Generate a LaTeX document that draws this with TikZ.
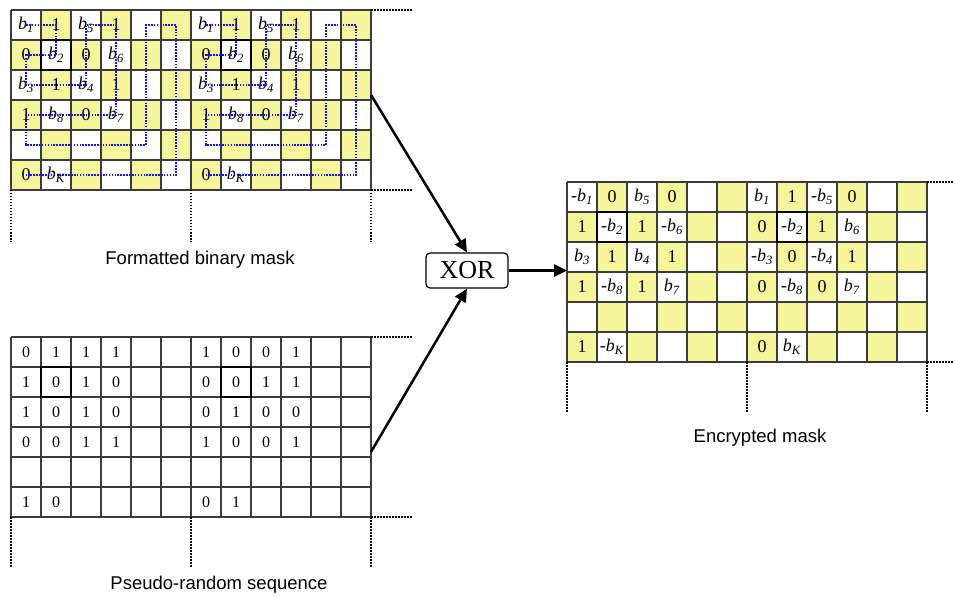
\documentclass[tikz,border=0pt]{standalone}
\usepackage{fontspec}
\setmainfont{Liberation Serif}
\setsansfont{Liberation Sans}
\usetikzlibrary{arrows.meta}
\definecolor{cellyellow}{RGB}{245,246,155}
\definecolor{gridline}{RGB}{60,60,60}
\definecolor{pathblue}{RGB}{20,20,245}
\newcommand\bsub[1]{\textit{b}\textsubscript{\textit{#1}}}
% #1 x0, #2 y0, #3 checker (1) or plain (0)
\newcommand\cellgrid[3]{%
  \ifnum#3=1
  \foreach \rr in {0,...,5}{\foreach \cc in {0,...,11}{%
    \pgfmathtruncatemacro\p{mod(\rr+\cc,2)}%
    \ifnum\p=1 \fill[cellyellow] ({#1+30*\cc},{#2+30*\rr}) rectangle ++(30,30);\fi}}
  \fi
  \foreach \i in {0,...,12}{\draw[gridline,line width=1.2pt] ({#1+30*\i},#2) -- ++(0,180);}
  \foreach \j in {0,...,6}{\draw[gridline,line width=1.2pt] (#1,{#2+30*\j}) -- ++(360,0);}
  \draw[black,line width=1.3pt] ({#1+30},{#2+30}) rectangle ++(30,30);
  \draw[black,line width=1.3pt] ({#1+210},{#2+30}) rectangle ++(30,30);
}
\begin{document}
\begin{tikzpicture}[x=1pt,y=-1pt,
  celltxt/.style={inner sep=0pt, font=\fontsize{18}{20}\selectfont},
  seqtxt/.style={inner sep=0pt, font=\fontsize{16}{18}\selectfont},
  caption/.style={font=\sffamily\fontsize{18.5}{20}\selectfont, inner sep=0pt},
  dots/.style={line width=1.8pt, dash pattern=on 1.5pt off 1.5pt},
  route/.style={pathblue, line width=2.1pt, dash pattern=on 1.6pt off 1.3pt},
  flow/.style={line width=2.5pt, -{Triangle[length=13pt,width=12pt]}},
  gate/.style={draw, rounded corners=4pt, line width=1.2pt, minimum width=82pt, minimum height=35pt, inner sep=0pt, font=\fontsize{26}{28}\selectfont}]
\useasboundingbox (0,0) rectangle (953,596);

% ---------- formatted binary mask ----------
\cellgrid{11}{10}{1}
\foreach \h in {0,6}{
  \foreach \r/\c/\t in {0/0/{\bsub{1}},0/1/1,0/2/{\bsub{5}},0/3/1,
      1/0/0,1/1/{\bsub{2}},1/2/0,1/3/{\bsub{6}},
      2/0/{\bsub{3}},2/1/1,2/2/{\bsub{4}},2/3/1,
      3/0/1,3/1/{\bsub{8}},3/2/0,3/3/{\bsub{7}},
      5/0/0,5/1/{\bsub{K}}}{
    \pgfmathtruncatemacro\cc{\c+\h}
    \node[celltxt] (m-\r-\cc) at ({11+30*\cc+15},{10+30*\r+15}) {\t};
  }
  \draw[route] ({11+30*\h+15},25) -- ++(30,0) -- ++(0,30) -- ++(-30,0) -- ++(0,30)
     -- ++(60,0) -- ++(0,-60) -- ++(30,0) -- ++(0,90) -- ++(-90,0) -- ++(0,30)
     -- ++(120,0) -- ++(0,-120) -- ++(30,0) -- ++(0,150) -- ++(-150,0);
}
\coordinate (mt1) at (371,10);  \coordinate (mt2) at (413,10);
\coordinate (mb1) at (371,190); \coordinate (mb2) at (413,190);
\draw[dots] (mt1) -- (mt2);
\draw[dots] (mb1) -- (mb2);
\foreach \x in {11,191,371}{\draw[dots] (\x,190) -- (\x,242);}
\node[caption] (cap-mask) at (200,260) {Formatted binary mask};
\coordinate (maskout) at (371,95);

% ---------- pseudo-random sequence ----------
\cellgrid{11}{337}{0}
\foreach \r/\c/\t in {0/0/0,0/1/1,0/2/1,0/3/1,0/6/1,0/7/0,0/8/0,0/9/1,
    1/0/1,1/1/0,1/2/1,1/3/0,1/6/0,1/7/0,1/8/1,1/9/1,
    2/0/1,2/1/0,2/2/1,2/3/0,2/6/0,2/7/1,2/8/0,2/9/0,
    3/0/0,3/1/0,3/2/1,3/3/1,3/6/1,3/7/0,3/8/0,3/9/1,
    5/0/1,5/1/0,5/6/0,5/7/1}{
  \node[seqtxt] (s-\r-\c) at ({11+30*\c+15},{337+30*\r+15}) {\t};
}
\coordinate (st1) at (371,337); \coordinate (st2) at (413,337);
\coordinate (sb1) at (371,517); \coordinate (sb2) at (413,517);
\draw[dots] (st1) -- (st2);
\draw[dots] (sb1) -- (sb2);
\foreach \x in {11,191,371}{\draw[dots] (\x,517) -- (\x,567);}
\node[caption] (cap-seq) at (219,585) {Pseudo-random sequence};
\coordinate (seqout) at (371,452);

% ---------- XOR ----------
\node[gate] (xor) at (467,270.5) {XOR};

% ---------- encrypted mask ----------
\cellgrid{567}{182}{1}
\foreach \r/\c/\t in {0/0/{-\bsub{1}},0/1/0,0/2/{\bsub{5}},0/3/0,
    1/0/1,1/1/{-\bsub{2}},1/2/1,1/3/{-\bsub{6}},
    2/0/{\bsub{3}},2/1/1,2/2/{\bsub{4}},2/3/1,
    3/0/1,3/1/{-\bsub{8}},3/2/1,3/3/{\bsub{7}},
    5/0/1,5/1/{-\bsub{K}},
    0/6/{\bsub{1}},0/7/1,0/8/{-\bsub{5}},0/9/0,
    1/6/0,1/7/{-\bsub{2}},1/8/1,1/9/{\bsub{6}},
    2/6/{-\bsub{3}},2/7/0,2/8/{-\bsub{4}},2/9/1,
    3/6/0,3/7/{-\bsub{8}},3/8/0,3/9/{\bsub{7}},
    5/6/0,5/7/{\bsub{K}}}{
  \node[celltxt] (e-\r-\c) at ({567+30*\c+15},{182+30*\r+15}) {\t};
}
\coordinate (et1) at (927,182); \coordinate (et2) at (953,182);
\coordinate (eb1) at (927,362); \coordinate (eb2) at (953,362);
\draw[dots] (et1) -- (et2);
\draw[dots] (eb1) -- (eb2);
\foreach \x in {567,747,927}{\draw[dots] (\x,362) -- (\x,412);}
\node[caption] (cap-enc) at (760,438) {Encrypted mask};
\coordinate (encin) at (567,270.5);

% ---------- connectors ----------
\draw[flow] (maskout) -- (xor.north);
\draw[flow] (seqout) -- (xor.south);
\draw[flow] (xor.east) -- (encin);
\end{tikzpicture}
\end{document}
